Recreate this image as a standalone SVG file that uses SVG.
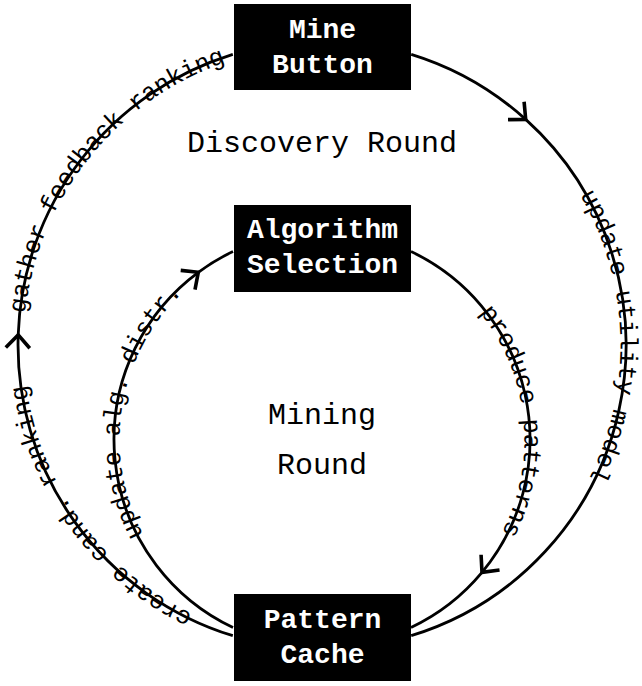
<svg xmlns="http://www.w3.org/2000/svg" width="642" height="686" viewBox="0 0 642 686">
<defs>
<style>
.node rect{fill:#000}
.node text{font-family:"Liberation Mono","Courier New",monospace;font-weight:bold;font-size:28px;fill:#fff;text-anchor:middle}
.edge{fill:none;stroke:#000;stroke-width:2.8;marker-mid:url(#arr)}
.elabel{font-family:"Liberation Mono","Courier New",monospace;font-size:25px;fill:#000}
.round{font-family:"Liberation Mono","Courier New",monospace;font-size:30px;fill:#000;text-anchor:middle}
</style>
<marker id="arr" markerUnits="userSpaceOnUse" viewBox="-18 -16 22 32" markerWidth="22" markerHeight="32" refX="0" refY="0" orient="auto" overflow="visible">
<path d="M-13,-12 L0,0 L-13,12" fill="none" stroke="#000" stroke-width="3.6"/>
</marker>
</defs>
<rect width="642" height="686" fill="#fff"/>
<g id="connectors">
<path id="e-or" class="edge" d="M411.2,54.3 A304,304 0 0 1 525.7,119.4 A304,304 0 0 1 411.2,635.7"/>
<path id="e-ol" class="edge" d="M232.8,635.7 A304,304 0 0 1 18.2,334.9 A304,304 0 0 1 232.8,54.3"/>
<path id="e-ir" class="edge" d="M411,251.5 A208,208 0 0 1 482,572.4 A208,208 0 0 1 411,627.5"/>
<path id="e-il" class="edge" d="M233,627.5 A208,208 0 0 1 198.3,272.3 A208,208 0 0 1 233,251.5"/>
</g>
<g id="edge-labels">
<text class="elabel" dy="5.5"><textPath href="#e-or" startOffset="377" text-anchor="middle">update utility model</textPath></text>
<text class="elabel" dy="5.5"><textPath href="#e-ol" startOffset="196" text-anchor="middle">create cand. ranking</textPath></text>
<text class="elabel" dy="5.5"><textPath href="#e-ol" startOffset="592" text-anchor="middle">gather feedback ranking</textPath></text>
<text class="elabel" dy="5.5"><textPath href="#e-ir" startOffset="214" text-anchor="middle">produce patterns</textPath></text>
<text class="elabel" dy="5.5"><textPath href="#e-il" startOffset="268" text-anchor="middle">update alg. distr.</textPath></text>
</g>
<g id="labels">
<text class="round" x="322" y="151.5">Discovery Round</text>
<text class="round" x="322" y="424">Mining</text>
<text class="round" x="322" y="474">Round</text>
</g>
<g id="mine-button" class="node">
<rect x="234" y="4" width="177" height="86"/>
<text x="322.5" y="37.7">Mine</text>
<text x="322.5" y="72.7">Button</text>
</g>
<g id="algorithm-selection" class="node">
<rect x="234" y="205" width="177" height="87"/>
<text x="322.5" y="238.3">Algorithm</text>
<text x="322.5" y="273.3">Selection</text>
</g>
<g id="pattern-cache" class="node">
<rect x="234" y="594" width="177" height="87"/>
<text x="322.5" y="628.3">Pattern</text>
<text x="322.5" y="662.7">Cache</text>
</g>
</svg>
